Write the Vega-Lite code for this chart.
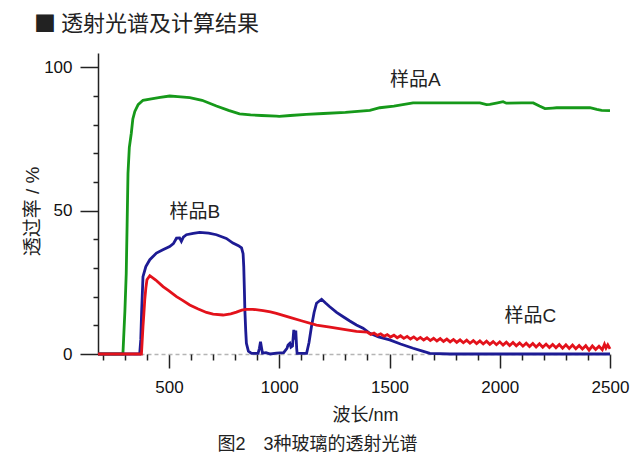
{
  "$schema": "https://vega.github.io/schema/vega-lite/v6.json",
  "width": 512,
  "height": 301,
  "autosize": {"type": "none"},
  "padding": {"left": 98, "top": 53, "right": 30, "bottom": 109},
  "background": "white",
  "config": {"view": {"stroke": null}, "font": "Liberation Sans, Noto Sans CJK SC"},
  "title": {"text": "■ 透射光谱及计算结果", "anchor": "start", "frame": "group", "dx": -64, "offset": 17, "fontSize": 22, "fontWeight": "normal", "font": "Noto Sans CJK SC", "color": "#222"},
  "datasets": {
    "spectra": [
      {"sample": "A", "wavelength": 178, "transmittance": 0},
      {"sample": "A", "wavelength": 291, "transmittance": 0},
      {"sample": "A", "wavelength": 294, "transmittance": 5},
      {"sample": "A", "wavelength": 300, "transmittance": 15},
      {"sample": "A", "wavelength": 306, "transmittance": 28},
      {"sample": "A", "wavelength": 310, "transmittance": 45},
      {"sample": "A", "wavelength": 314, "transmittance": 63},
      {"sample": "A", "wavelength": 320, "transmittance": 72},
      {"sample": "A", "wavelength": 329, "transmittance": 77},
      {"sample": "A", "wavelength": 336, "transmittance": 82},
      {"sample": "A", "wavelength": 345, "transmittance": 84.6},
      {"sample": "A", "wavelength": 360, "transmittance": 87},
      {"sample": "A", "wavelength": 382, "transmittance": 88.5},
      {"sample": "A", "wavelength": 420, "transmittance": 89},
      {"sample": "A", "wavelength": 460, "transmittance": 89.5},
      {"sample": "A", "wavelength": 503, "transmittance": 90},
      {"sample": "A", "wavelength": 540, "transmittance": 89.8},
      {"sample": "A", "wavelength": 594, "transmittance": 89.4},
      {"sample": "A", "wavelength": 650, "transmittance": 88.5},
      {"sample": "A", "wavelength": 715, "transmittance": 86.5},
      {"sample": "A", "wavelength": 770, "transmittance": 85},
      {"sample": "A", "wavelength": 820, "transmittance": 83.8},
      {"sample": "A", "wavelength": 870, "transmittance": 83.4},
      {"sample": "A", "wavelength": 920, "transmittance": 83.2},
      {"sample": "A", "wavelength": 987, "transmittance": 83},
      {"sample": "A", "wavelength": 1000, "transmittance": 82.9},
      {"sample": "A", "wavelength": 1050, "transmittance": 83.2},
      {"sample": "A", "wavelength": 1123, "transmittance": 83.6},
      {"sample": "A", "wavelength": 1200, "transmittance": 83.9},
      {"sample": "A", "wavelength": 1300, "transmittance": 84.3},
      {"sample": "A", "wavelength": 1411, "transmittance": 85},
      {"sample": "A", "wavelength": 1456, "transmittance": 85.9},
      {"sample": "A", "wavelength": 1520, "transmittance": 86.5},
      {"sample": "A", "wavelength": 1607, "transmittance": 87.6},
      {"sample": "A", "wavelength": 1700, "transmittance": 87.6},
      {"sample": "A", "wavelength": 1800, "transmittance": 87.6},
      {"sample": "A", "wavelength": 1910, "transmittance": 87.6},
      {"sample": "A", "wavelength": 1940, "transmittance": 87},
      {"sample": "A", "wavelength": 1955, "transmittance": 87.1},
      {"sample": "A", "wavelength": 1990, "transmittance": 87.6},
      {"sample": "A", "wavelength": 2015, "transmittance": 88},
      {"sample": "A", "wavelength": 2030, "transmittance": 87.5},
      {"sample": "A", "wavelength": 2100, "transmittance": 87.6},
      {"sample": "A", "wavelength": 2152, "transmittance": 87.6},
      {"sample": "A", "wavelength": 2180, "transmittance": 86.5},
      {"sample": "A", "wavelength": 2205, "transmittance": 85.6},
      {"sample": "A", "wavelength": 2240, "transmittance": 85.8},
      {"sample": "A", "wavelength": 2258, "transmittance": 85.9},
      {"sample": "A", "wavelength": 2350, "transmittance": 85.9},
      {"sample": "A", "wavelength": 2409, "transmittance": 85.9},
      {"sample": "A", "wavelength": 2440, "transmittance": 85.3},
      {"sample": "A", "wavelength": 2462, "transmittance": 85},
      {"sample": "A", "wavelength": 2500, "transmittance": 84.9},

      {"sample": "B", "wavelength": 178, "transmittance": 0},
      {"sample": "B", "wavelength": 367, "transmittance": 0},
      {"sample": "B", "wavelength": 372, "transmittance": 5},
      {"sample": "B", "wavelength": 376, "transmittance": 15},
      {"sample": "B", "wavelength": 382, "transmittance": 27},
      {"sample": "B", "wavelength": 395, "transmittance": 30.5},
      {"sample": "B", "wavelength": 413, "transmittance": 32.9},
      {"sample": "B", "wavelength": 443, "transmittance": 35.2},
      {"sample": "B", "wavelength": 470, "transmittance": 36.3},
      {"sample": "B", "wavelength": 503, "transmittance": 37.5},
      {"sample": "B", "wavelength": 520, "transmittance": 38.5},
      {"sample": "B", "wavelength": 534, "transmittance": 40.4},
      {"sample": "B", "wavelength": 548, "transmittance": 40.5},
      {"sample": "B", "wavelength": 556, "transmittance": 39.3},
      {"sample": "B", "wavelength": 565, "transmittance": 40.8},
      {"sample": "B", "wavelength": 579, "transmittance": 41.6},
      {"sample": "B", "wavelength": 610, "transmittance": 42.1},
      {"sample": "B", "wavelength": 639, "transmittance": 42.4},
      {"sample": "B", "wavelength": 680, "transmittance": 42.2},
      {"sample": "B", "wavelength": 715, "transmittance": 41.6},
      {"sample": "B", "wavelength": 760, "transmittance": 40.3},
      {"sample": "B", "wavelength": 790, "transmittance": 38.7},
      {"sample": "B", "wavelength": 815, "transmittance": 37.8},
      {"sample": "B", "wavelength": 829, "transmittance": 37},
      {"sample": "B", "wavelength": 836, "transmittance": 35},
      {"sample": "B", "wavelength": 839, "transmittance": 30.5},
      {"sample": "B", "wavelength": 842, "transmittance": 22},
      {"sample": "B", "wavelength": 844, "transmittance": 15.4},
      {"sample": "B", "wavelength": 848, "transmittance": 8},
      {"sample": "B", "wavelength": 851, "transmittance": 3.7},
      {"sample": "B", "wavelength": 860, "transmittance": 1},
      {"sample": "B", "wavelength": 874, "transmittance": 0.2},
      {"sample": "B", "wavelength": 904, "transmittance": 0.2},
      {"sample": "B", "wavelength": 910, "transmittance": 2},
      {"sample": "B", "wavelength": 915, "transmittance": 4.3},
      {"sample": "B", "wavelength": 920, "transmittance": 2},
      {"sample": "B", "wavelength": 924, "transmittance": 0.3},
      {"sample": "B", "wavelength": 940, "transmittance": 0.5},
      {"sample": "B", "wavelength": 960, "transmittance": 0},
      {"sample": "B", "wavelength": 987, "transmittance": 0.3},
      {"sample": "B", "wavelength": 1020, "transmittance": 0.5},
      {"sample": "B", "wavelength": 1035, "transmittance": 2},
      {"sample": "B", "wavelength": 1040, "transmittance": 3.1},
      {"sample": "B", "wavelength": 1048, "transmittance": 3.7},
      {"sample": "B", "wavelength": 1053, "transmittance": 2.4},
      {"sample": "B", "wavelength": 1060, "transmittance": 2.8},
      {"sample": "B", "wavelength": 1066, "transmittance": 8.4},
      {"sample": "B", "wavelength": 1070, "transmittance": 5},
      {"sample": "B", "wavelength": 1075, "transmittance": 8.2},
      {"sample": "B", "wavelength": 1079, "transmittance": 2},
      {"sample": "B", "wavelength": 1081, "transmittance": 0.2},
      {"sample": "B", "wavelength": 1124, "transmittance": 0.2},
      {"sample": "B", "wavelength": 1135, "transmittance": 4},
      {"sample": "B", "wavelength": 1146, "transmittance": 9.5},
      {"sample": "B", "wavelength": 1158, "transmittance": 14.5},
      {"sample": "B", "wavelength": 1169, "transmittance": 17.7},
      {"sample": "B", "wavelength": 1192, "transmittance": 19.1},
      {"sample": "B", "wavelength": 1210, "transmittance": 17.8},
      {"sample": "B", "wavelength": 1229, "transmittance": 16.5},
      {"sample": "B", "wavelength": 1260, "transmittance": 14.5},
      {"sample": "B", "wavelength": 1290, "transmittance": 13},
      {"sample": "B", "wavelength": 1320, "transmittance": 11.5},
      {"sample": "B", "wavelength": 1350, "transmittance": 10.1},
      {"sample": "B", "wavelength": 1380, "transmittance": 9},
      {"sample": "B", "wavelength": 1411, "transmittance": 7.2},
      {"sample": "B", "wavelength": 1450, "transmittance": 6},
      {"sample": "B", "wavelength": 1501, "transmittance": 4.9},
      {"sample": "B", "wavelength": 1550, "transmittance": 3.5},
      {"sample": "B", "wavelength": 1607, "transmittance": 2},
      {"sample": "B", "wavelength": 1650, "transmittance": 1},
      {"sample": "B", "wavelength": 1683, "transmittance": 0.2},
      {"sample": "B", "wavelength": 1774, "transmittance": 0},
      {"sample": "B", "wavelength": 2500, "transmittance": 0},

      {"sample": "C", "wavelength": 178, "transmittance": 0},
      {"sample": "C", "wavelength": 375, "transmittance": 0},
      {"sample": "C", "wavelength": 378, "transmittance": 4},
      {"sample": "C", "wavelength": 382, "transmittance": 9.5},
      {"sample": "C", "wavelength": 386, "transmittance": 14},
      {"sample": "C", "wavelength": 390, "transmittance": 18.9},
      {"sample": "C", "wavelength": 395, "transmittance": 23},
      {"sample": "C", "wavelength": 400, "transmittance": 25.9},
      {"sample": "C", "wavelength": 413, "transmittance": 27.3},
      {"sample": "C", "wavelength": 440, "transmittance": 25.8},
      {"sample": "C", "wavelength": 473, "transmittance": 23.5},
      {"sample": "C", "wavelength": 500, "transmittance": 22},
      {"sample": "C", "wavelength": 534, "transmittance": 20},
      {"sample": "C", "wavelength": 560, "transmittance": 18.8},
      {"sample": "C", "wavelength": 594, "transmittance": 17.1},
      {"sample": "C", "wavelength": 630, "transmittance": 15.8},
      {"sample": "C", "wavelength": 670, "transmittance": 14.5},
      {"sample": "C", "wavelength": 700, "transmittance": 13.9},
      {"sample": "C", "wavelength": 745, "transmittance": 13.6},
      {"sample": "C", "wavelength": 780, "transmittance": 14},
      {"sample": "C", "wavelength": 806, "transmittance": 14.6},
      {"sample": "C", "wavelength": 830, "transmittance": 15.3},
      {"sample": "C", "wavelength": 851, "transmittance": 15.6},
      {"sample": "C", "wavelength": 880, "transmittance": 15.6},
      {"sample": "C", "wavelength": 927, "transmittance": 15.1},
      {"sample": "C", "wavelength": 960, "transmittance": 14.7},
      {"sample": "C", "wavelength": 987, "transmittance": 14.2},
      {"sample": "C", "wavelength": 1048, "transmittance": 12.8},
      {"sample": "C", "wavelength": 1100, "transmittance": 11.6},
      {"sample": "C", "wavelength": 1169, "transmittance": 10.1},
      {"sample": "C", "wavelength": 1230, "transmittance": 9.4},
      {"sample": "C", "wavelength": 1300, "transmittance": 8.5},
      {"sample": "C", "wavelength": 1350, "transmittance": 7.9},
      {"sample": "C", "wavelength": 1400, "transmittance": 7.6},
      {"sample": "C", "wavelength": 1415, "transmittance": 6.85},
      {"sample": "C", "wavelength": 1430, "transmittance": 7.32},
      {"sample": "C", "wavelength": 1445, "transmittance": 6.53},
      {"sample": "C", "wavelength": 1460, "transmittance": 7.04},
      {"sample": "C", "wavelength": 1475, "transmittance": 6.21},
      {"sample": "C", "wavelength": 1490, "transmittance": 6.76},
      {"sample": "C", "wavelength": 1505, "transmittance": 5.91},
      {"sample": "C", "wavelength": 1520, "transmittance": 6.54},
      {"sample": "C", "wavelength": 1535, "transmittance": 5.68},
      {"sample": "C", "wavelength": 1550, "transmittance": 6.35},
      {"sample": "C", "wavelength": 1565, "transmittance": 5.45},
      {"sample": "C", "wavelength": 1580, "transmittance": 6.14},
      {"sample": "C", "wavelength": 1595, "transmittance": 5.24},
      {"sample": "C", "wavelength": 1610, "transmittance": 5.97},
      {"sample": "C", "wavelength": 1625, "transmittance": 5.04},
      {"sample": "C", "wavelength": 1640, "transmittance": 5.8},
      {"sample": "C", "wavelength": 1655, "transmittance": 4.88},
      {"sample": "C", "wavelength": 1670, "transmittance": 5.66},
      {"sample": "C", "wavelength": 1685, "transmittance": 4.69},
      {"sample": "C", "wavelength": 1700, "transmittance": 5.49},
      {"sample": "C", "wavelength": 1715, "transmittance": 4.54},
      {"sample": "C", "wavelength": 1730, "transmittance": 5.36},
      {"sample": "C", "wavelength": 1745, "transmittance": 4.37},
      {"sample": "C", "wavelength": 1760, "transmittance": 5.21},
      {"sample": "C", "wavelength": 1775, "transmittance": 4.22},
      {"sample": "C", "wavelength": 1790, "transmittance": 5.08},
      {"sample": "C", "wavelength": 1805, "transmittance": 4.05},
      {"sample": "C", "wavelength": 1820, "transmittance": 4.94},
      {"sample": "C", "wavelength": 1835, "transmittance": 3.91},
      {"sample": "C", "wavelength": 1850, "transmittance": 4.83},
      {"sample": "C", "wavelength": 1865, "transmittance": 3.76},
      {"sample": "C", "wavelength": 1880, "transmittance": 4.69},
      {"sample": "C", "wavelength": 1895, "transmittance": 3.62},
      {"sample": "C", "wavelength": 1910, "transmittance": 4.56},
      {"sample": "C", "wavelength": 1925, "transmittance": 3.5},
      {"sample": "C", "wavelength": 1940, "transmittance": 4.46},
      {"sample": "C", "wavelength": 1955, "transmittance": 3.36},
      {"sample": "C", "wavelength": 1970, "transmittance": 4.34},
      {"sample": "C", "wavelength": 1985, "transmittance": 3.24},
      {"sample": "C", "wavelength": 2000, "transmittance": 4.25},
      {"sample": "C", "wavelength": 2015, "transmittance": 3.09},
      {"sample": "C", "wavelength": 2030, "transmittance": 4.13},
      {"sample": "C", "wavelength": 2045, "transmittance": 2.97},
      {"sample": "C", "wavelength": 2060, "transmittance": 4.01},
      {"sample": "C", "wavelength": 2075, "transmittance": 2.85},
      {"sample": "C", "wavelength": 2090, "transmittance": 3.89},
      {"sample": "C", "wavelength": 2105, "transmittance": 2.73},
      {"sample": "C", "wavelength": 2120, "transmittance": 3.77},
      {"sample": "C", "wavelength": 2135, "transmittance": 2.61},
      {"sample": "C", "wavelength": 2150, "transmittance": 3.67},
      {"sample": "C", "wavelength": 2165, "transmittance": 2.47},
      {"sample": "C", "wavelength": 2180, "transmittance": 3.55},
      {"sample": "C", "wavelength": 2195, "transmittance": 2.35},
      {"sample": "C", "wavelength": 2210, "transmittance": 3.45},
      {"sample": "C", "wavelength": 2225, "transmittance": 2.25},
      {"sample": "C", "wavelength": 2240, "transmittance": 3.36},
      {"sample": "C", "wavelength": 2255, "transmittance": 2.16},
      {"sample": "C", "wavelength": 2270, "transmittance": 3.29},
      {"sample": "C", "wavelength": 2285, "transmittance": 2.05},
      {"sample": "C", "wavelength": 2300, "transmittance": 3.2},
      {"sample": "C", "wavelength": 2315, "transmittance": 1.95},
      {"sample": "C", "wavelength": 2330, "transmittance": 3.1},
      {"sample": "C", "wavelength": 2345, "transmittance": 1.84},
      {"sample": "C", "wavelength": 2360, "transmittance": 2.99},
      {"sample": "C", "wavelength": 2375, "transmittance": 1.74},
      {"sample": "C", "wavelength": 2390, "transmittance": 2.88},
      {"sample": "C", "wavelength": 2405, "transmittance": 1.33},
      {"sample": "C", "wavelength": 2420, "transmittance": 2.8},
      {"sample": "C", "wavelength": 2435, "transmittance": 1.56},
      {"sample": "C", "wavelength": 2450, "transmittance": 2.72},
      {"sample": "C", "wavelength": 2465, "transmittance": 1.48},
      {"sample": "C", "wavelength": 2475, "transmittance": 3.4},
      {"sample": "C", "wavelength": 2482, "transmittance": 2.1},
      {"sample": "C", "wavelength": 2490, "transmittance": 3.2},
      {"sample": "C", "wavelength": 2500, "transmittance": 1.8}
    ],
    "labels": [
      {"label": "样品A", "wavelength": 1617, "transmittance": 95.5},
      {"label": "样品B", "wavelength": 617, "transmittance": 49.5},
      {"label": "样品C", "wavelength": 2139, "transmittance": 13.3}
    ]
  },
  "resolve": {"axis": {"x": "independent", "y": "independent"}},
  "layer": [
    {
      "data": {"name": "spectra"},
      "mark": {"type": "line", "strokeWidth": 2.8},
      "encoding": {
        "x": {
          "field": "wavelength", "type": "quantitative",
          "scale": {"domain": [178, 2500], "nice": false, "zero": false},
          "axis": {
            "orient": "bottom", "values": [500, 1000, 1500, 2000, 2500], "format": "d", "grid": false,
            "labelFont": "Liberation Sans", "labelFontSize": 17, "labelColor": "#111", "labelPadding": 11,
            "labelFlush": false, "labelOverlap": false,
            "tickSize": 14, "tickWidth": 1.5, "tickColor": "#222",
            "domainColor": "#b5b5b5", "domainDash": [4, 3], "domainWidth": 1.5,
            "title": "波长/nm", "titleX": 267, "titleY": 61, "titleAlign": "center", "titleBaseline": "middle",
            "titleFont": "Liberation Sans, Noto Sans CJK SC", "titleFontSize": 18, "titleFontWeight": "normal", "titleColor": "#222"
          }
        },
        "y": {
          "field": "transmittance", "type": "quantitative",
          "scale": {"domain": [0, 105], "nice": false},
          "axis": {
            "orient": "left", "values": [0, 50, 100], "grid": false,
            "labelFont": "Liberation Sans", "labelFontSize": 17, "labelColor": "#111", "labelPadding": 8,
            "tickSize": 18, "tickWidth": 1.5, "tickColor": "#222",
            "domainColor": "#222", "domainWidth": 1.5,
            "title": "透过率 / %", "titleX": -66, "titleY": 158, "titleAngle": -90, "titleAlign": "center", "titleBaseline": "middle",
            "titleFont": "Liberation Sans, Noto Sans CJK SC", "titleFontSize": 19, "titleFontWeight": "normal", "titleColor": "#222"
          }
        },
        "color": {
          "field": "sample", "type": "nominal",
          "scale": {"domain": ["A", "B", "C"], "range": ["#16991a", "#1d1b94", "#e3121b"]},
          "legend": null
        }
      }
    },
    {
      "data": {"name": "labels"},
      "mark": {"type": "text", "fontSize": 19, "font": "Liberation Sans, Noto Sans CJK SC", "color": "#222", "align": "center", "baseline": "middle"},
      "encoding": {
        "x": {
          "field": "wavelength", "type": "quantitative",
          "axis": {
            "orient": "bottom", "values": [200, 300, 400, 600, 700, 800, 900, 1100, 1200, 1300, 1400, 1600, 1700, 1800, 1900, 2100, 2200, 2300, 2400],
            "labels": false, "domain": false, "grid": false,
            "tickSize": 6, "tickWidth": 1.5, "tickColor": "#222",
            "title": "图2　3种玻璃的透射光谱", "titleX": 219, "titleY": 90, "titleAlign": "center", "titleBaseline": "middle",
            "titleFont": "Liberation Sans, Noto Sans CJK SC", "titleFontSize": 18, "titleFontWeight": "normal", "titleColor": "#222"
          }
        },
        "y": {
          "field": "transmittance", "type": "quantitative",
          "axis": {
            "orient": "left", "values": [10, 20, 30, 40, 60, 70, 80, 90],
            "labels": false, "domain": false, "grid": false,
            "tickSize": 5, "tickWidth": 1.5, "tickColor": "#222",
            "title": null
          }
        },
        "text": {"field": "label", "type": "nominal"}
      }
    }
  ]
}
